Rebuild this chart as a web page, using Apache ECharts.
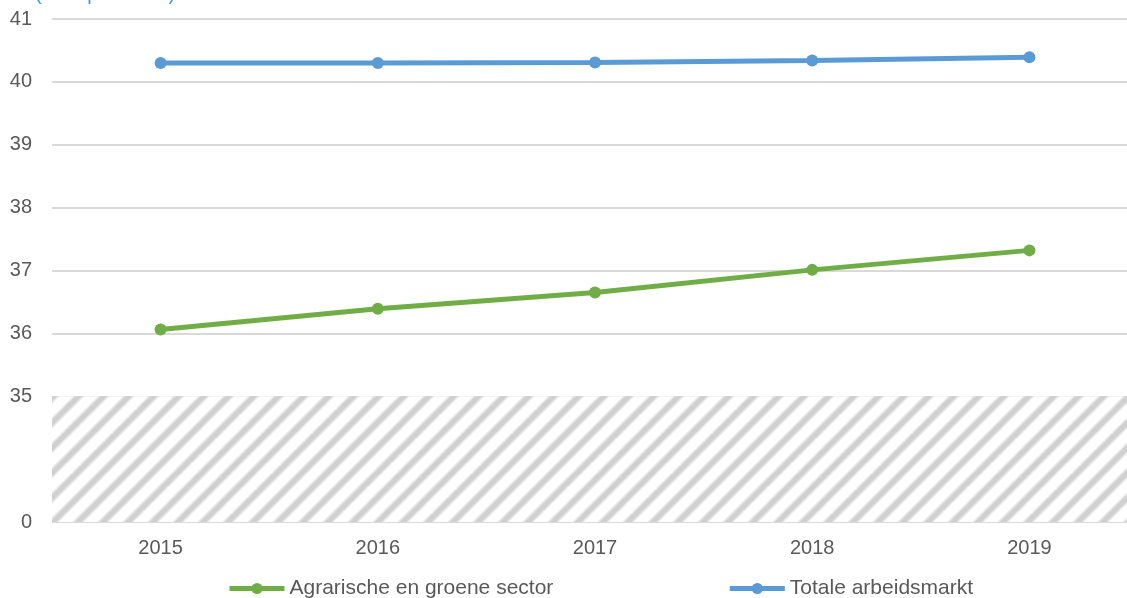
<!DOCTYPE html>
<html>
<head>
<meta charset="utf-8">
<script src="https://cdn.jsdelivr.net/npm/echarts@6/dist/echarts.min.js"></script>
<style>
html,body{margin:0;padding:0;background:#fff;overflow:hidden;}
#chart{width:1138px;height:598px;}
</style>
</head>
<body>
<div id="chart"></div>
<script>
// Data
var years = ['2015', '2016', '2017', '2018', '2019'];
var agrarisch = [36.06, 36.39, 36.65, 37.01, 37.32];
var totaal = [40.30, 40.30, 40.31, 40.34, 40.39];
// Broken axis: real value 0 and 35..41 shown; scale offset
var axisBreakBase = 33; // display = value - 33 (35 -> 2), 0 stays at 0
var yTickLabels = ['0', '', '35', '36', '37', '38', '39', '40', '41'];

function toDisplay(v) { return v === 0 ? 0 : v - axisBreakBase; }

// hatch pattern
var tile = document.createElement('canvas');
var P = 25;
tile.width = P; tile.height = P;
var ctx = tile.getContext('2d');
ctx.fillStyle = '#ffffff';
ctx.fillRect(0, 0, P, P);
function stripes(w, col) {
  ctx.strokeStyle = col;
  ctx.lineWidth = w;
  [-P, 0, P].forEach(function (o) {
    ctx.beginPath();
    ctx.moveTo(o - 5, P + 5);
    ctx.lineTo(o + P + 5, -5);
    ctx.stroke();
  });
}
stripes(8, '#e8e8e8');
stripes(5, '#d0d0d0');

var chart = echarts.init(document.getElementById('chart'), null, {renderer: 'canvas'});
var gridColors = ['#d9d9d9', 'rgba(0,0,0,0)', '#d9d9d9', '#d9d9d9', '#d9d9d9', '#d9d9d9', '#d9d9d9', '#d9d9d9', '#d9d9d9'];

chart.setOption({
  animation: false,
  backgroundColor: '#ffffff',
  title: {
    text: '(uren per week)',
    left: 30,
    top: -21,
    textStyle: {color: '#3d9be0', fontSize: 20, fontWeight: 'normal', fontFamily: 'Liberation Sans'}
  },
  grid: {left: 52, right: 0, top: 19, bottom: 76, containLabel: false},
  legend: {
    bottom: -6,
    left: 222,
    itemWidth: 55,
    itemHeight: 14,
    itemGap: 174,
    lineStyle: {width: 5},
    textStyle: {color: '#595959', fontSize: 21, fontFamily: 'Liberation Sans'},
    data: ['Agrarische en groene sector', 'Totale arbeidsmarkt']
  },
  xAxis: {
    type: 'category',
    data: years,
    boundaryGap: true,
    axisLine: {show: false},
    axisTick: {show: false},
    axisLabel: {color: '#595959', fontSize: 20, margin: 16, fontFamily: 'Liberation Sans'}
  },
  yAxis: {
    type: 'value',
    min: 0,
    max: 8,
    interval: 1,
    axisLine: {show: false},
    axisTick: {show: false},
    splitLine: {show: true, lineStyle: {color: gridColors, width: 2}},
    axisLabel: {
      margin: 20,
      fontSize: 20,
      fontFamily: 'Liberation Sans',
      color: function (value) { return value === 0 ? '#000000' : '#595959'; },
      formatter: function (value) { return yTickLabels[Math.round(value)]; }
    }
  },
  series: [
    {
      name: 'Agrarische en groene sector',
      type: 'line',
      data: agrarisch.map(toDisplay),
      symbol: 'circle',
      symbolSize: 12,
      lineStyle: {width: 5, color: '#70ad47'},
      itemStyle: {color: '#70ad47'},
      z: 3,
      markArea: {
        silent: true,
        itemStyle: {color: {image: tile, repeat: 'repeat'}},
        data: [[{yAxis: 0}, {yAxis: 2}]]
      }
    },
    {
      name: 'Totale arbeidsmarkt',
      type: 'line',
      data: totaal.map(toDisplay),
      symbol: 'circle',
      symbolSize: 12,
      lineStyle: {width: 5, color: '#5b9bd5'},
      itemStyle: {color: '#5b9bd5'},
      z: 3
    }
  ]
});
</script>
</body>
</html>
